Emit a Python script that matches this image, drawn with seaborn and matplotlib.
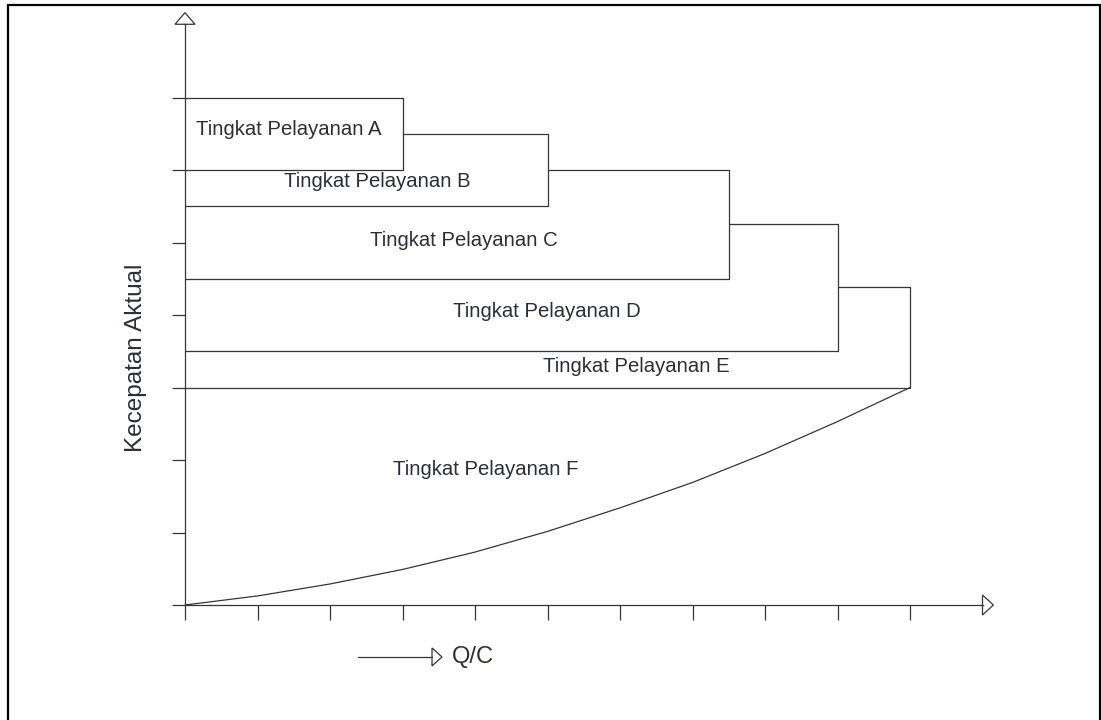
import pandas as pd
import matplotlib.pyplot as plt
from matplotlib.patches import Polygon, Rectangle
import seaborn as sns

# level-of-service diagram: speed vs Q/C
qc = [0, 1, 2, 3, 4, 5, 6, 7, 8, 9, 10]
speed_f = [0, 0.125, 0.29, 0.49, 0.73, 1.015, 1.34, 1.69, 2.09, 2.53, 3.0]

levels = ["A", "B", "C", "D", "E"]
box_left = [0, 3, 5, 7.5, 9]
box_right = [3, 5, 7.5, 9, 10]
box_top = [7, 6.5, 6, 5.25, 4.38]
box_bottom = [6, 5.5, 4.5, 3.5, 3]

label_names = ["Tingkat Pelayanan A", "Tingkat Pelayanan B", "Tingkat Pelayanan C",
               "Tingkat Pelayanan D", "Tingkat Pelayanan E", "Tingkat Pelayanan F"]
label_x = [0.152, 1.366, 2.552, 3.697, 4.938, 2.869]
label_y = [6.483, 5.766, 4.952, 3.972, 3.214, 1.793]

sns.set_style("white")
plt.rcParams["font.family"] = ["Liberation Sans", "DejaVu Sans"]
LC = "#33373d"
TC = "#2b2f36"

fig = plt.figure(figsize=(11.01, 7.2), dpi=100)
ax = fig.add_axes([112.5 / 1101, 42.5 / 720, 906.25 / 1101, 674.25 / 720])
ax.set_xlim(-1, 11.5)
ax.set_ylim(-1, 8.3)

# outlines of boxes A..E
rows = []
for i, lv in enumerate(levels):
    pts = [(box_left[i], box_top[i]), (box_right[i], box_top[i]),
           (box_right[i], box_bottom[i]), (0, box_bottom[i])]
    for k, (x, y) in enumerate(pts):
        rows.append({"level": lv, "order": k, "qc": x, "speed": y})
boxes = pd.DataFrame(rows)
for lv in levels:
    sns.lineplot(data=boxes[boxes.level == lv], x="qc", y="speed", sort=False,
                 estimator=None, color=LC, lw=0.9, ax=ax)

curve = pd.DataFrame({"qc": qc, "speed": speed_f})
sns.lineplot(data=curve, x="qc", y="speed", sort=False, estimator=None,
             color=LC, lw=0.9, ax=ax)

for name, x, y in zip(label_names, label_x, label_y):
    ax.text(x, y, name, ha="left", va="baseline", fontsize=14.6, color=TC)

# axes with ticks through origin
for s in ["top", "right"]:
    ax.spines[s].set_visible(False)
ax.spines["left"].set_position(("data", 0))
ax.spines["bottom"].set_position(("data", 0))
ax.spines["left"].set_bounds(0, 8.01)
ax.spines["bottom"].set_bounds(0, 11.0)
for s in ["left", "bottom"]:
    ax.spines[s].set_color(LC)
    ax.spines[s].set_linewidth(0.9)
ax.set_xticks(range(0, 11))
ax.set_yticks(range(0, 8))
ax.tick_params(axis="x", direction="out", length=10.8, width=0.9, color=LC,
               labelbottom=False, bottom=True)
ax.tick_params(axis="y", direction="out", length=9.4, width=0.9, color=LC,
               labelleft=False, left=True)
ax.set_xlabel("")
ax.set_ylabel("")

# hollow arrow heads
hw = 0.138
ax.add_patch(Polygon([(-hw, 8.01), (hw, 8.01), (0, 8.17)], closed=True,
                     fill=False, ec=LC, lw=0.9, clip_on=False))
ax.add_patch(Polygon([(11.0, -hw), (11.0, hw), (11.15, 0)], closed=True,
                     fill=False, ec=LC, lw=0.9, clip_on=False))

# Q/C arrow
ax.plot([2.386, 3.407], [-0.717, -0.717], color=LC, lw=0.9)
ax.add_patch(Polygon([(3.407, -0.717 - 0.124), (3.407, -0.717 + 0.124), (3.545, -0.717)],
                     closed=True, fill=False, ec=LC, lw=0.9))
ax.text(3.683, -0.8, "Q/C", ha="left", va="baseline", fontsize=17, color=TC)

ax.text(-0.593, 3.407, "Kecepatan Aktual", rotation=90, rotation_mode="anchor",
        ha="center", va="baseline", fontsize=17.5, color=TC)

# page border
fig.add_artist(Rectangle((7.5 / 1101, -0.01), 1092 / 1101, 0.01 + 715 / 720,
                         transform=fig.transFigure, fill=False, ec="black", lw=1.6))

fig.savefig("out.png", dpi=100)
